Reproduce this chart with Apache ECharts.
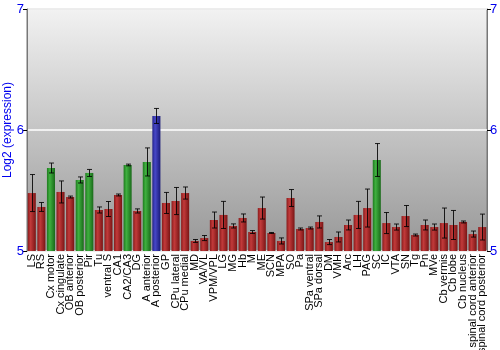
<!DOCTYPE html>
<html>
<head>
<meta charset="utf-8">
<script src="https://cdn.jsdelivr.net/npm/echarts@6/dist/echarts.min.js"></script>
<style>html,body{margin:0;padding:0;background:#fff}#c{width:500px;height:350px}</style>
</head>
<body>
<div id="c"></div>
<script>
const categories = ["LS","RS","Cx motor","Cx cingulate","OB anterior","OB posterior","Pir","Tu","ventral S","CA1","CA2/CA3","DG","A anterior","A posterior","GP","CPu lateral","CPu medial","MD","VA/VL","VPM/VPL","LG","MG","Hb","M","ME","SCN","MPA","SO","Pa","SPa ventral","SPa dorsal","DM","VMH","Arc","LH","PAG","SC","IC","VTA","SN","Tg","Pn","MVe","Cb vermis","Cb lobe","Cb nucleus","spinal cord anterior","spinal cord posterior"];
const values = [5.479,5.364,5.686,5.488,5.446,5.587,5.645,5.339,5.347,5.463,5.711,5.331,5.736,6.116,5.397,5.413,5.479,5.083,5.107,5.256,5.298,5.207,5.273,5.157,5.355,5.149,5.083,5.438,5.182,5.190,5.240,5.074,5.116,5.215,5.298,5.355,5.752,5.231,5.198,5.289,5.132,5.215,5.198,5.231,5.215,5.240,5.140,5.198];
const errors = [0.153,0.037,0.041,0.091,0.008,0.025,0.029,0.025,0.062,0.008,0.007,0.017,0.116,0.062,0.087,0.112,0.050,0.012,0.021,0.066,0.112,0.017,0.033,0.012,0.091,0.004,0.025,0.070,0.008,0.008,0.050,0.021,0.041,0.041,0.112,0.157,0.136,0.087,0.025,0.087,0.008,0.041,0.025,0.124,0.120,0.008,0.025,0.107];
const groups = ["r","r","g","r","r","g","g","r","r","r","g","r","g","b","r","r","r","r","r","r","r","r","r","r","r","r","r","r","r","r","r","r","r","r","r","r","g","r","r","r","r","r","r","r","r","r","r","r"];
const yTicks = [5,6,7];

const palette = {
  r: ['#8a1c1c','#c23a3a','#7a1515'],
  g: ['#1f7a1f','#3fb03f','#1a6a1a'],
  b: ['#22228a','#4848c8','#1a1a78']
};
function grad(k){
  const p = palette[k];
  return new echarts.graphic.LinearGradient(0,0,1,0,[
    {offset:0,color:p[0]},{offset:0.35,color:p[1]},{offset:1,color:p[2]}
  ]);
}

const chart = echarts.init(document.getElementById('c'), null, {renderer:'canvas'});
const blue = '#0000ee';
const yAxisBase = {
  type:'value', min:yTicks[0], max:yTicks[yTicks.length-1], interval:1,
  axisLine:{show:true,lineStyle:{color:'#777'}},
  axisTick:{show:true,length:4,lineStyle:{color:'#000'}},
  splitLine:{show:false},
  axisLabel:{color:blue,fontSize:13,fontFamily:'Liberation Sans, Arial, sans-serif',margin:3}
};
chart.setOption({
  animation:false,
  grid:{left:27,right:13,top:9,bottom:99,containLabel:false,outerBoundsMode:'none',show:true,borderColor:'#777',borderWidth:1,
    backgroundColor:new echarts.graphic.LinearGradient(0,0,0,1,[{offset:0,color:'#f2f2f2'},{offset:1,color:'#979797'}])},
  xAxis:{type:'category',data:categories,
    axisLine:{show:false},axisTick:{show:false},
    axisLabel:{interval:0,rotate:90,fontSize:11,color:'#000',margin:3,fontFamily:'Liberation Sans, Arial, sans-serif'}},
  yAxis:[
    Object.assign({},yAxisBase,{position:'left',name:'Log2 (expression)',nameLocation:'middle',nameGap:13,nameMoveOverlap:false,
      nameTextStyle:{color:blue,fontSize:12,fontFamily:'Liberation Sans, Arial, sans-serif'},
      splitLine:{show:true,lineStyle:{color:'#fff',width:1.5}}}),
    Object.assign({},yAxisBase,{position:'right'})
  ],
  series:[
    {type:'bar',barCategoryGap:'16%',
     data:values.map((v,i)=>({value:v,itemStyle:{color:grad(groups[i])}}))},
    {type:'custom',
     data:values.map((v,i)=>[i,v-errors[i],v+errors[i]]),
     renderItem:function(params,api){
       const lo=api.coord([api.value(0),api.value(1)]);
       const hi=api.coord([api.value(0),api.value(2)]);
       const x=Math.round(lo[0])+0.5, w=2.5;
       const st={stroke:'#000',lineWidth:1,opacity:0.85};
       return {type:'group',children:[
         {type:'line',shape:{x1:x,y1:lo[1],x2:x,y2:hi[1]},style:st},
         {type:'line',shape:{x1:x-w,y1:lo[1],x2:x+w,y2:lo[1]},style:st},
         {type:'line',shape:{x1:x-w,y1:hi[1],x2:x+w,y2:hi[1]},style:st}
       ]};
     },z:5}
  ]
});
</script>
</body>
</html>
